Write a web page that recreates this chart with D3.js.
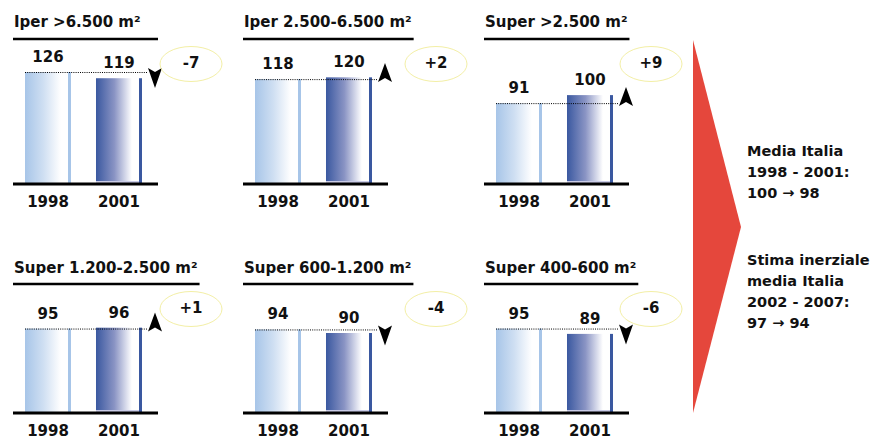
<!DOCTYPE html>
<html>
<head>
<meta charset="utf-8">
<script src="https://cdn.jsdelivr.net/npm/d3@7"></script>
<style>
  html, body { margin: 0; padding: 0; background: #fff; }
  svg { display: block; }
  text { font-family: "DejaVu Sans", sans-serif; font-weight: 700; fill: #111; }
</style>
</head>
<body>
<svg id="chart" width="883" height="439"></svg>
<script>
// Store formats and the two survey years
const formats = ["Iper >6.500 m²", "Iper 2.500-6.500 m²", "Super >2.500 m²",
                 "Super 1.200-2.500 m²", "Super 600-1.200 m²", "Super 400-600 m²"];
const years = ["1998", "2001"];
// Index values per format (Italy average = 100)
const values1998 = [126, 118, 91, 95, 94, 95];
const values2001 = [119, 120, 100, 96, 90, 89];
// Side notes on the national average
const noteAverage = ["Media Italia", "1998 - 2001:", "100 → 98"];
const noteForecast = ["Stima inerziale", "media Italia", "2002 - 2007:", "97 → 94"];

const svg = d3.select("#chart");

// layout
const colX = [0, 230, 471];
const rows = [
  { base: 184, title: 27, rule: 39, bubble: 64 },
  { base: 413, title: 273, rule: 284, bubble: 309 }
];
const bubbleX = [191, 206, 180];
const arrowX = 155;
const FS = 15;

const x = d3.scaleBand().domain(years).range([25, 142]).paddingInner(0.352).paddingOuter(0);
const h = d3.scaleLinear().domain([0, 126]).range([0, 112]);

// gradients for the two bar styles
const defs = svg.append("defs");
function barGradient(id, color, mid) {
  const g = defs.append("linearGradient").attr("id", id)
    .attr("x1", "0%").attr("x2", "100%").attr("y1", "0%").attr("y2", "0%");
  g.append("stop").attr("offset", "0%").attr("stop-color", color);
  g.append("stop").attr("offset", "40%").attr("stop-color", mid);
  g.append("stop").attr("offset", "78%").attr("stop-color", "#ffffff");
  g.append("stop").attr("offset", "94%").attr("stop-color", "#ffffff");
  g.append("stop").attr("offset", "94%").attr("stop-color", color);
  g.append("stop").attr("offset", "100%").attr("stop-color", color);
}
barGradient("g1998", "#a7c5e8", "#cfdff2");
barGradient("g2001", "#3a58a0", "#8a94c4");

const panels = formats.map((name, i) => ({
  name, i, col: i % 3, row: Math.floor(i / 3),
  v: [values1998[i], values2001[i]]
}));

panels.forEach(p => {
  const r = rows[p.row];
  const g = svg.append("g").attr("transform", `translate(${colX[p.col]},0)`);

  // title and rule under it
  const t = g.append("text").attr("x", 14).attr("y", r.title)
    .attr("font-size", FS).text(p.name);
  const tw = t.node().getComputedTextLength();
  g.append("line").attr("x1", 13).attr("x2", Math.max(158, 14 + tw + 2))
    .attr("y1", r.rule).attr("y2", r.rule)
    .attr("stroke", "#000").attr("stroke-width", 2.6);

  const pairs = years.map((y, k) => ({ y, v: p.v[k] }));

  // bars
  g.selectAll("rect.bar").data(pairs)
    .join("rect").attr("class", "bar")
    .attr("x", d => x(d.y)).attr("width", x.bandwidth())
    .attr("y", d => r.base - h(d.v)).attr("height", d => h(d.v))
    .attr("fill", d => `url(#g${d.y})`);

  // faint bottom edge on the 2001 bar
  g.append("rect").attr("x", x("2001")).attr("width", x.bandwidth() - 3)
    .attr("y", r.base - 3).attr("height", 2).attr("fill", "#c9cbe6");

  // value labels
  g.selectAll("text.val").data(pairs)
    .join("text").attr("class", "val")
    .attr("x", d => x(d.y) + x.bandwidth() / 2)
    .attr("y", d => r.base - h(d.v) - 10)
    .attr("text-anchor", "middle").attr("font-size", FS)
    .text(d => d.v);

  // baseline
  g.append("line").attr("x1", 13).attr("x2", 158)
    .attr("y1", r.base).attr("y2", r.base)
    .attr("stroke", "#000").attr("stroke-width", 3);

  // year labels
  g.selectAll("text.yr").data(years).join("text").attr("class", "yr")
    .attr("x", d => x(d) + x.bandwidth() / 2).attr("y", r.base + 23)
    .attr("text-anchor", "middle").attr("font-size", FS).text(d => d);

  // dotted reference line at the 1998 level
  const y0 = r.base - h(p.v[0]);
  g.append("line").attr("x1", x("1998")).attr("x2", 148)
    .attr("y1", y0 + 0.5).attr("y2", y0 + 0.5)
    .attr("stroke", "#000").attr("stroke-width", 1)
    .attr("stroke-dasharray", "1,1.2");

  // direction arrow
  const diff = p.v[1] - p.v[0];
  const ax = arrowX;
  let pts;
  if (diff >= 0) {
    pts = [[ax, y0 - 16], [ax + 7, y0 + 3], [ax, y0 - 1], [ax - 7, y0 + 3]];
  } else {
    pts = [[ax, y0 + 16], [ax + 7, y0 - 4], [ax, y0], [ax - 7, y0 - 4]];
  }
  g.append("path").attr("d", d3.line()(pts) + "Z").attr("fill", "#000");

  // change bubble
  svg.append("ellipse").attr("cx", colX[p.col] + bubbleX[p.col]).attr("cy", r.bubble)
    .attr("rx", 31).attr("ry", 17.5)
    .attr("fill", "none").attr("stroke", "#f3efa6").attr("stroke-width", 1);
  svg.append("text").attr("x", colX[p.col] + bubbleX[p.col]).attr("y", r.bubble + 4)
    .attr("text-anchor", "middle").attr("font-size", FS)
    .text((diff > 0 ? "+" : "") + diff);
});

// big red pointer
svg.append("path")
  .attr("d", d3.line()([[693, 40], [741, 227], [693, 413]]) + "Z")
  .attr("fill", "#e5473c");

// side notes
function note(lines, y) {
  svg.append("g").selectAll("text").data(lines).join("text")
    .attr("x", 747).attr("y", (d, k) => y + k * 21)
    .attr("font-size", 14.5).text(d => d);
}
note(noteAverage, 156);
note(noteForecast, 265);
</script>
</body>
</html>
